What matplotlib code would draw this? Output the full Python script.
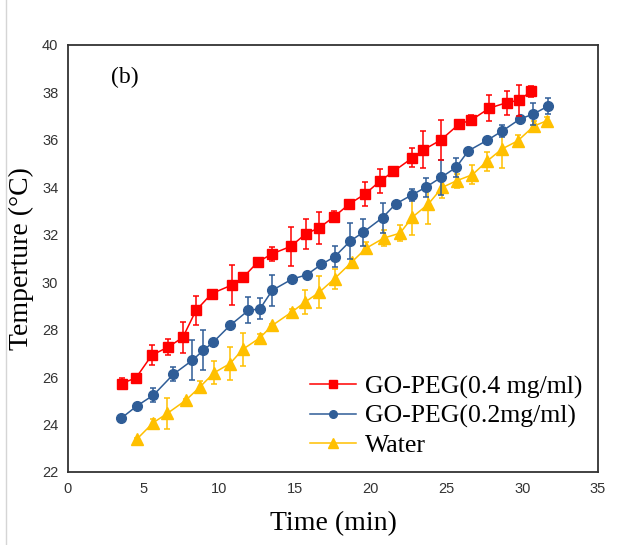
import matplotlib
matplotlib.use('Agg')
import matplotlib.pyplot as plt
from matplotlib.lines import Line2D

# time (min) / temperature (C) / error
red_x = [3.55, 4.49, 5.53, 6.62, 7.58, 8.45, 9.49, 10.85, 11.58, 12.53, 13.49, 14.71, 15.70, 16.58,
         17.59, 18.58, 19.62, 20.60, 21.49, 22.74, 23.47, 24.61, 25.83, 26.62, 27.83, 28.97, 29.79, 30.56]
red_y = [25.73, 25.97, 26.92, 27.27, 27.67, 28.81, 29.52, 29.89, 30.21, 30.85, 31.20, 31.51, 32.04, 32.29,
         32.77, 33.30, 33.72, 34.26, 34.67, 35.24, 35.58, 35.99, 36.67, 36.83, 37.34, 37.57, 37.67, 38.04]
red_err = [0.25, 0.10, 0.42, 0.33, 0.67, 0.63, 0.10, 0.84, 0.10, 0.15, 0.30, 0.82, 0.63, 0.67,
           0.25, 0.10, 0.50, 0.50, 0.10, 0.40, 0.78, 0.84, 0.10, 0.20, 0.55, 0.50, 0.65, 0.25]

blue_x = [3.50, 4.54, 5.64, 6.96, 8.21, 8.94, 9.60, 10.70, 11.91, 12.68, 13.49, 14.79, 15.76, 16.73, 17.62,
          18.63, 19.50, 20.77, 21.64, 22.74, 23.62, 24.64, 25.63, 26.44, 27.70, 28.69, 29.85, 30.73, 31.72]
blue_y = [24.26, 24.78, 25.24, 26.12, 26.71, 27.13, 27.48, 28.18, 28.81, 28.88, 29.66, 30.13, 30.31, 30.75, 31.08,
          31.73, 32.11, 32.72, 33.30, 33.69, 34.00, 34.42, 34.84, 35.54, 35.99, 36.38, 36.88, 37.09, 37.43]
blue_err = [0.05, 0.05, 0.30, 0.30, 0.84, 0.85, 0.10, 0.10, 0.55, 0.45, 0.65, 0.10, 0.10, 0.10, 0.45,
            0.77, 0.57, 0.63, 0.10, 0.25, 0.40, 0.75, 0.40, 0.10, 0.10, 0.25, 0.10, 0.45, 0.35]

yel_x = [4.54, 5.63, 6.56, 7.79, 8.72, 9.64, 10.70, 11.54, 12.66, 13.49, 14.77, 15.65, 16.60, 17.60,
         18.74, 19.68, 20.85, 21.93, 22.74, 23.80, 24.72, 25.67, 26.70, 27.65, 28.64, 29.70, 30.78, 31.60]
yel_y = [23.38, 24.08, 24.47, 25.03, 25.59, 26.18, 26.57, 27.17, 27.65, 28.18, 28.74, 29.16, 29.58, 30.15,
         30.85, 31.43, 31.86, 32.07, 32.74, 33.30, 34.00, 34.28, 34.53, 35.09, 35.61, 35.96, 36.59, 36.80]
yel_err = [0.05, 0.15, 0.64, 0.05, 0.25, 0.48, 0.70, 0.70, 0.15, 0.05, 0.15, 0.50, 0.67, 0.42,
           0.05, 0.25, 0.35, 0.35, 0.77, 0.84, 0.45, 0.30, 0.40, 0.42, 0.80, 0.25, 0.20, 0.15]

labels = ['GO-PEG(0.4 mg/ml)', 'GO-PEG(0.2mg/ml)', 'Water']
colors = ['#FF0000', '#2F5D97', '#FFC000']
markers = ['s', 'o', '^']

serif = 'Liberation Serif'

fig = plt.figure(figsize=(6.17, 5.45), dpi=100)
ax = fig.add_axes([68 / 617, 1 - 472 / 545, 530 / 617, 427 / 545])

series = [(yel_x, yel_y, yel_err, 2), (blue_x, blue_y, blue_err, 1), (red_x, red_y, red_err, 0)]
for x, y, e, i in series:
    ms = {'s': 7.5, 'o': 7, '^': 8.5}[markers[i]]
    ax.errorbar(x, y, yerr=e, color=colors[i], marker=markers[i], ms=ms, lw=1.1,
                elinewidth=1.1, capsize=2.5, capthick=1.1, zorder=3 - i)

ax.set_xlim(0, 35)
ax.set_ylim(22, 40)
ax.set_xticks(range(0, 36, 5))
ax.set_yticks(range(22, 41, 2))
ax.tick_params(length=0, pad=7, labelsize=10.5, labelcolor='#333333')
for lab in ax.get_xticklabels() + ax.get_yticklabels():
    lab.set_fontfamily('Liberation Sans')
for s in ax.spines.values():
    s.set_color('#333333')
    s.set_linewidth(1.3)

ax.set_xlabel('Time (min)', fontfamily=serif, fontsize=20, labelpad=11)
ax.set_ylabel('Temperture (°C)', fontfamily=serif, fontsize=20, labelpad=6)
ax.text(0.108, 0.925, '(b)', transform=ax.transAxes, ha='center', va='center',
        fontfamily=serif, fontsize=17)

handles = []
for i in range(3):
    handles.append(Line2D([], [], color=colors[i], marker=markers[i], lw=1.1,
                          ms={'s': 6, 'o': 5.5, '^': 7.5}[markers[i]]))
ax.legend(handles, labels, loc='lower right', bbox_to_anchor=(1.0, 0.0), frameon=False,
          prop={'family': serif, 'size': 18.5}, handlelength=1.8, handletextpad=0.35,
          labelspacing=0.22, borderaxespad=0.2)

fig.add_artist(Line2D([6 / 617, 6 / 617], [0, 1], color='#d5d5d5', lw=1))

fig.savefig('out.png', dpi=100)
